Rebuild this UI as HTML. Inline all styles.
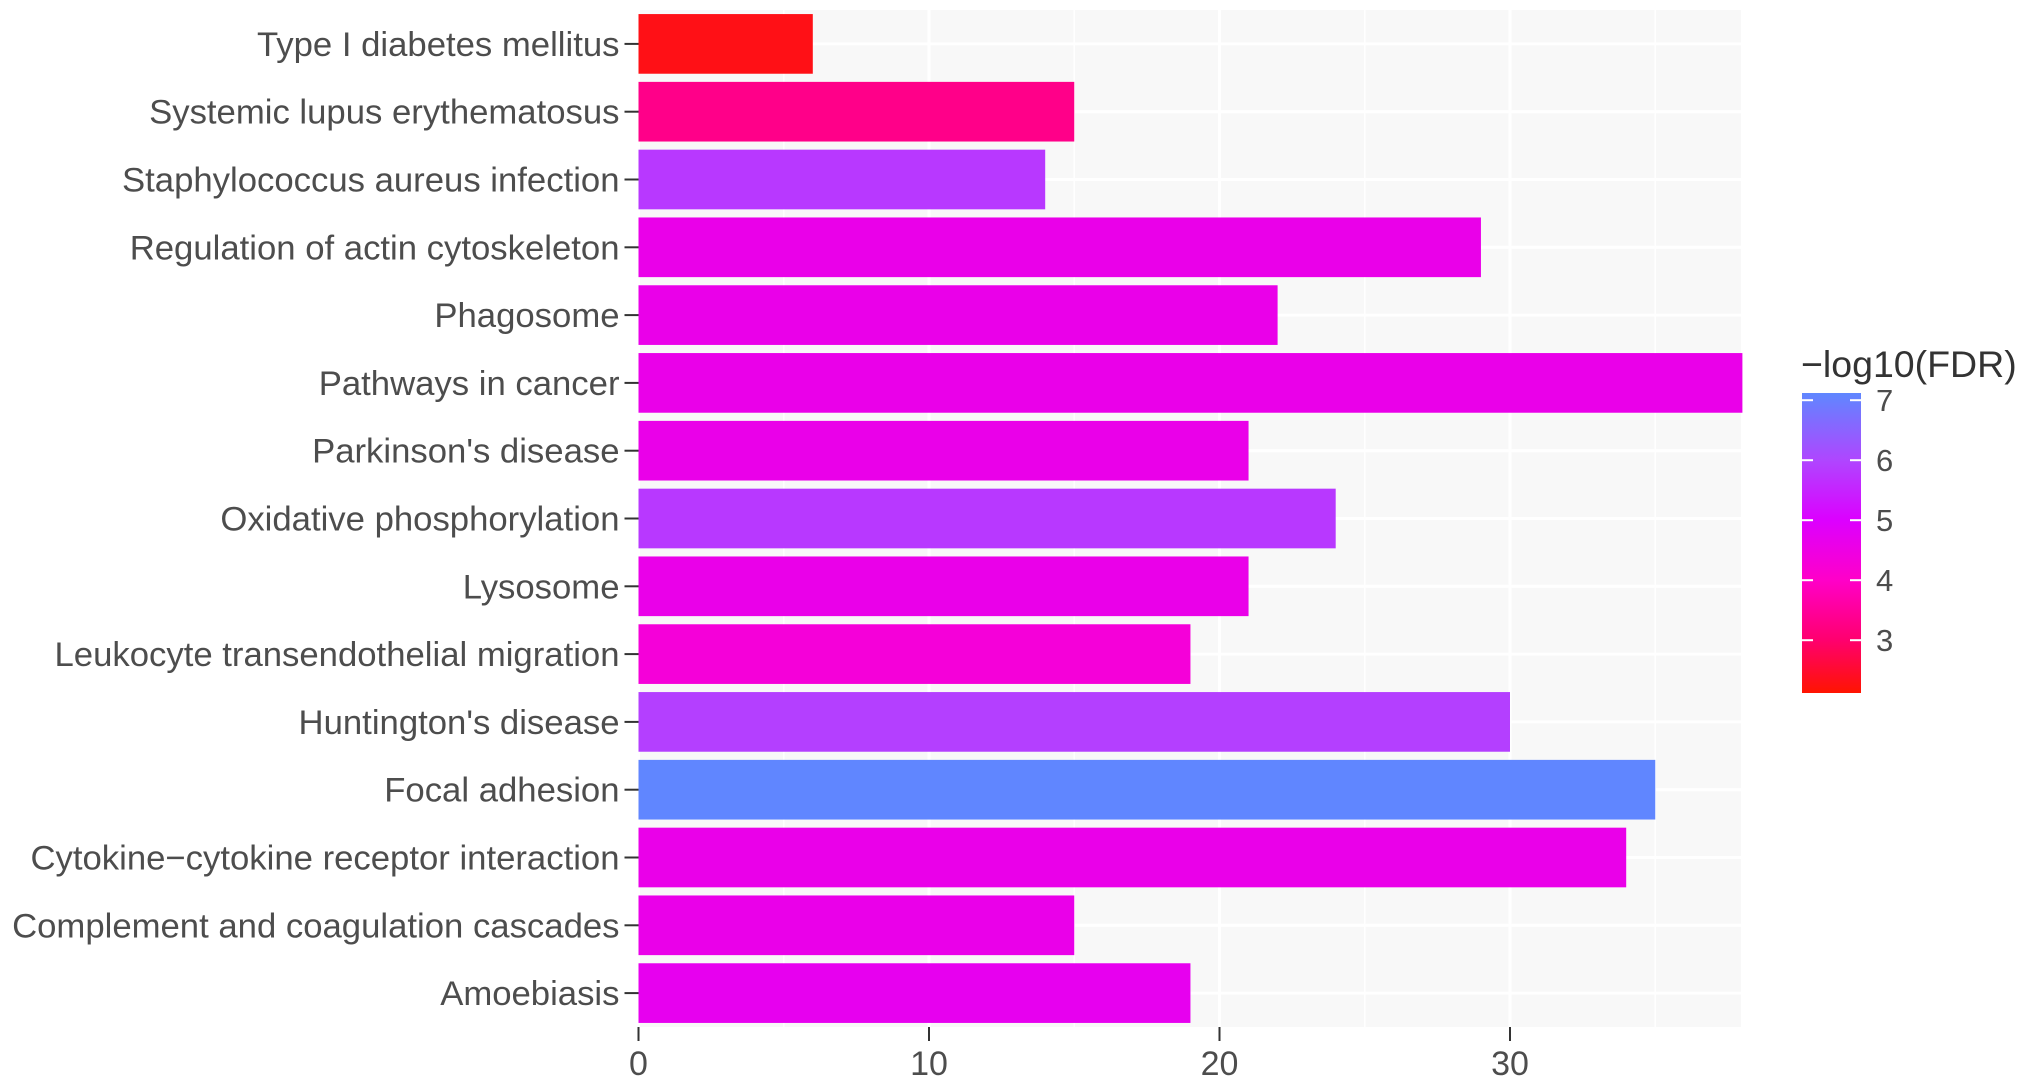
<!DOCTYPE html>
<html><head><meta charset="utf-8"><style>
html,body{margin:0;padding:0;background:#fff;}
svg{display:block;font-family:"Liberation Sans",sans-serif;}
</style></head><body>
<svg id="chart" width="2031" height="1083"></svg>
<script>
const categories=["Type I diabetes mellitus","Systemic lupus erythematosus","Staphylococcus aureus infection","Regulation of actin cytoskeleton","Phagosome","Pathways in cancer","Parkinson's disease","Oxidative phosphorylation","Lysosome","Leukocyte transendothelial migration","Huntington's disease","Focal adhesion","Cytokine\u2212cytokine receptor interaction","Complement and coagulation cascades","Amoebiasis"];
const counts=[6,15,14,29,22,38,21,24,21,19,30,35,34,15,19];
const fdr=[2.3,3.3,5.8,4.6,4.6,4.6,4.6,5.8,4.6,4.3,5.9,7.1,4.6,4.6,4.7];
const xTicks=[0,10,20,30];
const legendTicks=[3,4,5,6,7];
const legendMin=2.12, legendMax=7.12;

const NS="http://www.w3.org/2000/svg";
const svg=document.getElementById('chart');
function mk(t,a,p){const e=document.createElementNS(NS,t);for(const k in a)e.setAttribute(k,a[k]);(p||svg).appendChild(e);return e;}
const L=638.5,R=1741,T=10,B=1027;
const xMax=(R-L)/29.05;
const x=v=>L+v/xMax*(R-L);
const band=(B-T)/categories.length;
const yc=i=>T+band*(i+0.5);
const stops=[[2.12,[255,20,0]],[3,[255,0,110]],[4,[255,0,200]],[5,[220,0,255]],[6,[175,70,255]],[7.12,[95,135,255]]];
function col(v){v=Math.max(stops[0][0],Math.min(stops[stops.length-1][0],v));
 for(let i=0;i<stops.length-1;i++){const a=stops[i],b=stops[i+1];if(v<=b[0]){const t=(v-a[0])/(b[0]-a[0]);const c=a[1].map((q,j)=>Math.round(q+(b[1][j]-q)*t));return `rgb(${c})`;}}}
const panel=mk('rect',{x:L,y:T,width:R-L,height:B-T,fill:'#f8f8f8'});

for(let v=5;v<xMax;v+=10){const g=mk('line',{x1:x(v),x2:x(v),y1:T,y2:B,stroke:'#fff','stroke-width':1.5});}
xTicks.forEach(v=>{const g=mk('line',{x1:x(v),x2:x(v),y1:T,y2:B,stroke:'#fff','stroke-width':3});});
categories.forEach((c,i)=>{const g=mk('line',{x1:L,x2:R,y1:yc(i),y2:yc(i),stroke:'#fff','stroke-width':3});});
categories.forEach((c,i)=>{
 const h=band*0.88;
 const r=mk('rect',{x:x(0),y:yc(i)-h/2,width:x(counts[i])-x(0),height:h,fill:col(fdr[i])});
 
 const tk=mk('line',{x1:L-14,x2:L,y1:yc(i),y2:yc(i),stroke:'#333','stroke-width':2});
 
 const t=mk('text',{x:L-19,y:yc(i)+12,'text-anchor':'end','font-size':34.7,fill:'#4d4d4d'});t.textContent=c;
 
});
xTicks.forEach(v=>{
 const tk=mk('line',{x1:x(v),x2:x(v),y1:B,y2:B+14,stroke:'#333','stroke-width':2});
 
 const t=mk('text',{x:x(v),y:B+48,'text-anchor':'middle','font-size':34,fill:'#4d4d4d'});t.textContent=v;
 
});
const LX=1802,LW=59,LT=393,LB=693;
const defs=mk('defs',{});const gr=mk('linearGradient',{id:'lg',x1:0,y1:1,x2:0,y2:0},defs);
stops.forEach(s=>mk('stop',{offset:(s[0]-legendMin)/(legendMax-legendMin),'stop-color':`rgb(${s[1]})`},gr));
const lr=mk('rect',{x:LX,y:LT,width:LW,height:LB-LT,fill:'url(#lg)'});

const ly=v=>LB-(v-legendMin)/(legendMax-legendMin)*(LB-LT);
legendTicks.forEach(v=>{
 const a=mk('line',{x1:LX,x2:LX+11,y1:ly(v),y2:ly(v),stroke:'#fff','stroke-width':2});
 const b=mk('line',{x1:LX+LW-11,x2:LX+LW,y1:ly(v),y2:ly(v),stroke:'#fff','stroke-width':2});
 const t=mk('text',{x:LX+LW+15,y:ly(v)+11,'font-size':31,fill:'#4d4d4d'});t.textContent=v;
 
});
const lt=mk('text',{x:1801,y:377,'font-size':37.5,fill:'#333'});lt.textContent='\u2212log10(FDR)';

</script>
</body></html>
